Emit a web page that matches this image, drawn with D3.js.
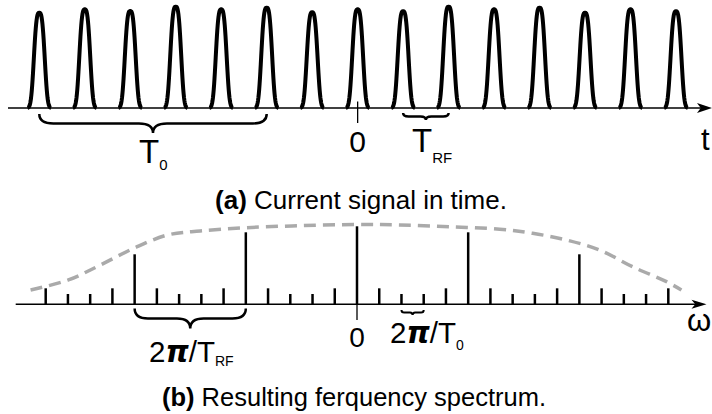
<!DOCTYPE html>
<html><head><meta charset="utf-8">
<script src="https://cdn.jsdelivr.net/npm/d3@7"></script>
<style>html,body{margin:0;padding:0;background:#fff;}svg{display:block;}</style>
</head><body>
<svg id="c" width="712" height="414"></svg>
<script>
// ---------- data ----------
const pulseIndex = [-7,-6,-5,-4,-3,-2,-1,0,1,2,3,4,5,6,7];
const pulseAmp   = [0.94,0.974,0.957,1.0,0.974,0.99,0.945,0.974,0.955,1.0,0.974,0.99,0.94,0.974,0.955];

const lineIndex = [-14,-13,-12,-11,-10,-9,-8,-7,-6,-5,-4,-3,-2,-1,0,1,2,3,4,5,6,7,8,9,10,11,12,13,14];
const lineAmp   = [0.205,0.132,0.132,0.205,0.641,0.205,0.132,0.132,0.205,0.923,0.205,0.132,0.132,0.205,1.0,
                   0.205,0.132,0.132,0.205,0.923,0.205,0.132,0.132,0.205,0.641,0.205,0.132,0.132,0.205];

const envX = [-14.68,-12.98,-11.54,-10.01,-8.53,-7.05,-4.98,-2.56,0,1.93,4.18,6.42,7.9,9.43,10.91,12.39,13.92,14.59];
const envY = [0.183,0.312,0.504,0.722,0.888,0.94,0.982,1.008,1.023,1.017,0.995,0.962,0.91,0.824,0.696,0.482,0.29,0.183];

const captionA = ["(a)", " Current signal in time."];
const captionB = ["(b)", " Resulting ferquency spectrum."];

// ---------- setup ----------
const svg = d3.select("#c");
const FONT = "'Liberation Sans', Arial, sans-serif";

const xT = d3.scaleLinear().domain([-7,7]).range([39.3,676]);
const yT = d3.scaleLinear().domain([0,1]).range([108,6.7]);
const xB = d3.scaleLinear().domain([-14,14]).range([45.7,668.3]);
const yB = d3.scaleLinear().domain([0,1]).range([304.3,226.3]);

function brace(x1, x2, y0, d) {
  const xm = (x1 + x2) / 2, q = d * 0.5, r = Math.min((x2 - x1) * 0.12, 14);
  const p = d3.path();
  p.moveTo(x1, y0);
  p.quadraticCurveTo(x1, y0 + q, x1 + r, y0 + q);
  p.lineTo(xm - r, y0 + q);
  p.quadraticCurveTo(xm, y0 + q, xm, y0 + d);
  p.quadraticCurveTo(xm, y0 + q, xm + r, y0 + q);
  p.lineTo(x2 - r, y0 + q);
  p.quadraticCurveTo(x2, y0 + q, x2, y0);
  return p.toString();
}
function arrow(xTip, y, len, half) {
  return `M${xTip},${y} L${xTip-len},${y-half} L${xTip-len*0.75},${y} L${xTip-len},${y+half} Z`;
}

// ---------- top panel ----------
svg.append("line").attr("x1", 8).attr("x2", 702).attr("y1", yT(0)).attr("y2", yT(0))
  .attr("stroke", "#000").attr("stroke-width", 1.5);
svg.append("path").attr("d", arrow(712, yT(0), 15, 5)).attr("fill", "#000");

const halfW = 0.26;   // drawn half-width of a pulse, time units
const shapeS = 0.1386; // pulse shape width parameter, time units
const offs = d3.range(-halfW, halfW + 1e-9, halfW / 30);
const pulseLine = d3.line().x(d => xT(d[0])).y(d => yT(d[1]));
svg.append("g").selectAll("path").data(pulseIndex).join("path")
  .attr("d", (c, i) => pulseLine(offs.map(u => [c + u, pulseAmp[i] * Math.exp(-Math.pow(Math.abs(u) / shapeS, 3))])))
  .attr("fill", "none").attr("stroke", "#000").attr("stroke-width", 4)
  .attr("stroke-linejoin", "round");

// zero tick
svg.append("line").attr("x1", xT(0)).attr("x2", xT(0)).attr("y1", 101.5).attr("y2", 123)
  .attr("stroke", "#000").attr("stroke-width", 1.3);

// braces
svg.append("path").attr("d", brace(xT(-7), xT(-2), 114, 19))
  .attr("fill", "none").attr("stroke", "#000").attr("stroke-width", 2.5);
svg.append("path").attr("d", brace(xT(1), xT(2), 113, 7))
  .attr("fill", "none").attr("stroke", "#000").attr("stroke-width", 2.5);

// labels top
function subLabel(x, y, main, sub, size, subSize, subDy) {
  const t = svg.append("text").attr("x", x).attr("y", y).attr("font-family", FONT)
    .attr("font-size", size).attr("fill", "#000");
  t.append("tspan").text(main);
  t.append("tspan").attr("font-size", subSize).attr("dy", subDy).text(sub);
  return t;
}
subLabel(139, 163, "T", "0", 33, 15, 7);
svg.append("text").attr("x", xT(0)).attr("y", 151.5).attr("text-anchor", "middle")
  .attr("font-family", FONT).attr("font-size", 30).text("0");
subLabel(412, 152, "T", "RF", 33, 15, 11);
svg.append("text").attr("x", 701).attr("y", 150).attr("font-family", FONT).attr("font-size", 31).text("t");

// caption a
const ca = svg.append("text").attr("x", 361).attr("y", 209).attr("text-anchor", "middle")
  .attr("font-family", FONT).attr("font-size", 26).attr("fill", "#000");
ca.append("tspan").attr("font-weight", "bold").text(captionA[0]);
ca.append("tspan").text(captionA[1]);

// ---------- bottom panel ----------
svg.append("path").attr("d", d3.line().x(d => xB(d)).y((d, i) => yB(envY[i])).curve(d3.curveCatmullRom)(envX))
  .attr("fill", "none").attr("stroke", "#aaaaaa").attr("stroke-width", 3.5).attr("stroke-dasharray", "12,7");

svg.append("line").attr("x1", 15.7).attr("x2", 696).attr("y1", yB(0)).attr("y2", yB(0))
  .attr("stroke", "#000").attr("stroke-width", 1.5);
svg.append("path").attr("d", arrow(706.5, yB(0), 15, 4.5)).attr("fill", "#000");

svg.append("g").selectAll("line").data(lineIndex).join("line")
  .attr("x1", d => xB(d)).attr("x2", d => xB(d))
  .attr("y1", yB(0)).attr("y2", (d, i) => yB(lineAmp[i]))
  .attr("stroke", "#000").attr("stroke-width", 2.5);

svg.append("line").attr("x1", xB(0)).attr("x2", xB(0)).attr("y1", yB(0)).attr("y2", 320)
  .attr("stroke", "#000").attr("stroke-width", 1.3);

svg.append("path").attr("d", brace(xB(-10), xB(-5), 308.5, 20))
  .attr("fill", "none").attr("stroke", "#000").attr("stroke-width", 2.5);
svg.append("path").attr("d", brace(xB(2), xB(3), 310, 5))
  .attr("fill", "none").attr("stroke", "#000").attr("stroke-width", 2);

function piLabel(x, y, sub, size, subSize, subDy) {
  const t = svg.append("text").attr("x", x).attr("y", y).attr("font-family", FONT)
    .attr("font-size", size).attr("fill", "#000");
  t.append("tspan").text("2");
  t.append("tspan").attr("font-family", "'DejaVu Sans', sans-serif").attr("font-weight", "bold")
    .attr("font-style", "italic").text("π");
  t.append("tspan").text("/T");
  t.append("tspan").attr("font-size", subSize).attr("dy", subDy).text(sub);
}
piLabel(149, 362, "RF", 29.5, 14, 4);
piLabel(390, 343, "0", 29.5, 14, 7);

svg.append("text").attr("x", xB(0)).attr("y", 347).attr("text-anchor", "middle")
  .attr("font-family", FONT).attr("font-size", 28).text("0");
svg.append("text").attr("x", 687).attr("y", 331).attr("font-family", FONT).attr("font-size", 31).text("ω");

const cb = svg.append("text").attr("x", 354).attr("y", 406).attr("text-anchor", "middle")
  .attr("font-family", FONT).attr("font-size", 25.5).attr("fill", "#000");
cb.append("tspan").attr("font-weight", "bold").text(captionB[0]);
cb.append("tspan").text(captionB[1]);
</script>
</body></html>
